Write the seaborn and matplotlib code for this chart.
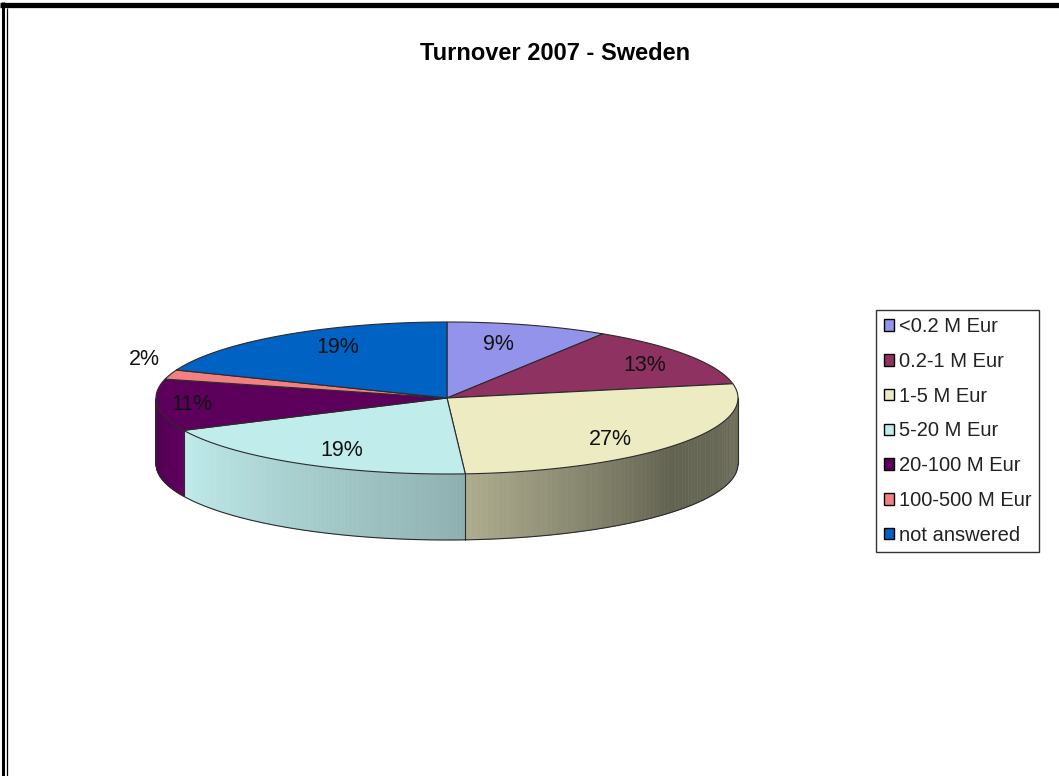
"""
Turnover 2007 - Sweden : pseudo-3D pie chart (Excel style)
"""
import numpy as np
import matplotlib
matplotlib.use("Agg")
import matplotlib.pyplot as plt
import matplotlib.colors as mcolors
from matplotlib.patches import Polygon, Patch
import seaborn as sns

# ── Data ──────────────────────────────────────────────────────────────────────
categories = ["<0.2 M Eur", "0.2-1 M Eur", "1-5 M Eur", "5-20 M Eur",
              "20-100 M Eur", "100-500 M Eur", "not answered"]
shares = [9, 13, 27, 19, 11, 2, 19]
colors = ["#9393ec", "#8e3262", "#ecebc2", "#c0ecec", "#5c005c", "#f28080", "#0062c2"]
title = "Turnover 2007 - Sweden"

sns.set_theme(style="white")
plt.rcParams["font.family"] = ["Liberation Sans", "DejaVu Sans"]

# ── Geometry (pixels) ─────────────────────────────────────────────────────────
W, H = 1059, 776
CX, CY, RX, RY, DEPTH = 447, 398, 291, 76, 66
EDGE = "#2b2b2b"
# where Excel puts the inside labels (fraction of radius, x and y)
LABEL_FACTOR = {0: (0.63, 0.73), 1: (0.82, 0.77), 2: (0.71, 0.90),
                3: (0.71, 0.80), 4: (0.88, 0.9), 6: (0.67, 0.81)}


def rim(theta, drop=0.0):
    t = np.radians(theta)
    return CX + RX * np.cos(t), CY - RY * np.sin(t) + drop


def shade(c, f):
    return tuple(np.clip(np.array(mcolors.to_rgb(c)) * f, 0, 1))


fig = plt.figure(figsize=(W / 100, H / 100), dpi=100)
fig.patch.set_facecolor("white")
ax = fig.add_axes([0, 0, 1, 1])
ax.set_xlim(0, W)
ax.set_ylim(H, 0)
ax.axis("off")

fracs = np.array(shares, dtype=float) / sum(shares)
edges = 90 - 360 * np.concatenate([[0], np.cumsum(fracs)])  # clockwise from 12 o'clock

# lighting along the front wall
shade_ang = [-180, -155, -90, -40, 0]
shade_val = [0.86, 1.0, 0.76, 0.42, 0.47]

# ── Side walls (front half only) ──────────────────────────────────────────────
for i, c in enumerate(colors):
    lo, hi = max(edges[i + 1], -180), min(edges[i], 0)
    if lo >= hi:
        continue
    ts = np.linspace(lo, hi, 80)
    for t0, t1 in zip(ts[:-1], ts[1:]):
        f = np.interp((t0 + t1) / 2, shade_ang, shade_val)
        x0, y0 = rim(t0)
        x1, y1 = rim(t1)
        col = shade(c, f)
        ax.add_patch(Polygon([(x0, y0), (x1, y1), (x1, y1 + DEPTH), (x0, y0 + DEPTH)],
                             closed=True, facecolor=col, edgecolor=col, lw=0.4))

# wall outline
tb = np.linspace(-180, 0, 300)
bx, by = rim(tb, DEPTH)
ax.plot(bx, by, color=EDGE, lw=0.8)
for a in [-180, 0] + [e for e in edges if -180 < e < 0]:
    x, y = rim(a)
    ax.plot([x, x], [y, y + DEPTH], color=EDGE, lw=0.8)

# ── Top face ──────────────────────────────────────────────────────────────────
for i, c in enumerate(colors):
    ts = np.linspace(edges[i], edges[i + 1], 120)
    xs, ys = rim(ts)
    pts = [(CX, CY)] + list(zip(xs, ys))
    ax.add_patch(Polygon(pts, closed=True, facecolor=c, edgecolor=EDGE, lw=0.8))

# ── Percentage labels ─────────────────────────────────────────────────────────
for i, s in enumerate(shares):
    mid = (edges[i] + edges[i + 1]) / 2
    if i not in LABEL_FACTOR:
        x, y = rim(mid)
        ax.text(x - 10, y - 5, f"{s}%", ha="right", va="bottom", fontsize=15.5, color="#111111")
        continue
    fx, fy = LABEL_FACTOR[i]
    t = np.radians(mid)
    x, y = CX + fx * RX * np.cos(t), CY - fy * RY * np.sin(t)
    ax.text(x, y, f"{s}%", ha="center", va="center", fontsize=15.5, color="#111111")

# ── Title ─────────────────────────────────────────────────────────────────────
ax.text(555, 53, title, ha="center", va="center", fontsize=17, fontweight="bold", color="black")

# ── Legend ────────────────────────────────────────────────────────────────────
handles = [Patch(facecolor=c, edgecolor="black", lw=1.0, label=l) for c, l in zip(colors, categories)]
leg = fig.legend(handles=handles, loc="center left", bbox_to_anchor=(876 / W, 1 - 431 / H),
                 fontsize=14.5, frameon=True, fancybox=False, handlelength=0.5, handleheight=0.5,
                 handletextpad=0.25, labelspacing=0.78, borderpad=0.38, borderaxespad=0)
leg.get_frame().set_edgecolor("black")
leg.get_frame().set_linewidth(1.0)
for t in leg.get_texts():
    t.set_color("#222222")

# ── Chart frame ───────────────────────────────────────────────────────────────
ax.plot([0, W], [4.5, 4.5], color="black", lw=3.8, solid_capstyle="butt")
ax.plot([3, 3], [2, H], color="black", lw=2.2, solid_capstyle="butt")
ax.plot([7, 7], [8, H], color="black", lw=0.9, solid_capstyle="butt")

fig.savefig("out.png", dpi=100, facecolor="white")
plt.close(fig)
